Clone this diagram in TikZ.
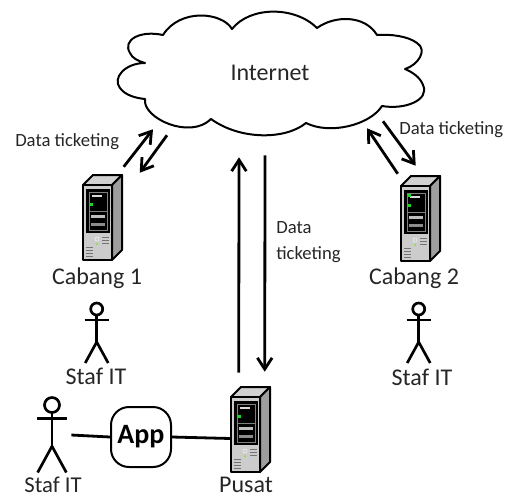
\documentclass[tikz,border=0pt]{standalone}
\usepackage{fontspec}
\setmainfont{Carlito}
\usetikzlibrary{arrows.meta}
\newlength{\du}
\setlength{\du}{0.75pt}
\definecolor{labelcolor}{rgb}{0.15,0.15,0.15}
\definecolor{topcolor}{rgb}{0.82,0.82,0.82}
\definecolor{sidecolor}{rgb}{0.62,0.62,0.62}
\definecolor{panelcolor}{rgb}{0.80,0.80,0.80}
\definecolor{ledcolor}{rgb}{0.10,0.85,0.15}
\tikzset{
  label text/.style={text=labelcolor,font=\fontsize{18pt}{20pt}\selectfont,inner sep=0pt},
  small text/.style={text=labelcolor,font=\fontsize{14pt}{20pt}\selectfont,inner sep=0pt,align=left},
  cloudline/.style={line width=1.5pt,line join=round},
  flow/.style={line width=2.1pt,-{Straight Barb[length=8.5pt,width=11pt,line width=2.1pt]}},
  link/.style={line width=2.1pt},
  stickline/.style={line width=2pt},
  serverline/.style={line width=1.5pt,line join=round},
  actorsize/.store in=\actorsize,
  actorsize=1,
  serverpic/.pic={
    \pgftransformyscale{-1.000000}
    \node[minimum width=39\du,minimum height=85\du,inner sep=0pt] (-box) at (19.5\du,42.5\du) {};
    \draw[serverline,fill=topcolor] (0\du,10\du)--(10\du,0\du)--(39\du,0\du)--(29\du,10\du)--cycle;
    \draw[serverline,fill=sidecolor] (29\du,10\du)--(39\du,0\du)--(39\du,75\du)--(29\du,85\du)--cycle;
    \draw[serverline,fill=panelcolor] (0\du,10\du)--(29\du,10\du)--(29\du,85\du)--(0\du,85\du)--cycle;
    \fill[black] (3\du,14\du)--(27\du,14\du)--(27\du,58\du)--(3\du,58\du)--cycle;
    \draw[white!50!black,line width=0.4pt] (6\du,17\du)--(24\du,17\du)--(24\du,55\du)--(6\du,55\du)--cycle;
    \fill[white!85!black] (9\du,20\du)--(19\du,20\du)--(19\du,22\du)--(9\du,22\du)--cycle;
    \fill[ledcolor] (7\du,28\du)--(10\du,28\du)--(10\du,31\du)--(7\du,31\du)--cycle;
    \draw[white!50!black,line width=0.4pt] (6\du,36\du)--(24\du,36\du);
    \fill[white!75!black] (8\du,40\du)--(22\du,40\du)--(22\du,43\du)--(8\du,43\du)--cycle;
    \fill[white!55!black] (8\du,48\du)--(22\du,48\du)--(22\du,51\du)--(8\du,51\du)--cycle;
    \draw[white!95!black,line width=0.4pt] (14\du,64\du) circle (2\du);
    \fill[ledcolor!60!yellow] (14\du,69\du) circle (1\du);
    \foreach \ypos in {62,65,68} {
      \draw[white!45!black,line width=0.5pt] (19\du,\ypos\du)--(26\du,\ypos\du);
    }
    \foreach \ypos in {72,75,78,81} {
      \draw[white!45!black,line width=0.5pt] (3\du,\ypos\du)--(10\du,\ypos\du);
    }
  },
  actorpic/.pic={
    \pgftransformyscale{-1.000000}
    \pgftransformscale{\actorsize}
    \draw[stickline] (0\du,0\du) circle (6\du);
    \draw[stickline] (0\du,6\du)--(0\du,33\du);
    \draw[stickline] (-12\du,11\du)--(12\du,11\du);
    \draw[stickline] (-11.5\du,54\du)--(0\du,33\du)--(11.5\du,54\du);
    \coordinate (-hand) at (15.5\du,24\du);
  }
}

\begin{document}
\begin{tikzpicture}
\pgftransformxscale{1.000000}
\pgftransformyscale{-1.000000}
\useasboundingbox (0\du,0\du) rectangle (523\du,497\du);
% cloud
\draw[cloudline] (232\du,29\du)
  .. controls (222\du,12\du) and (180\du,8\du) .. (163\du,35\du)
  .. controls (140\du,30\du) and (122\du,40\du) .. (130\du,53\du)
  .. controls (132\du,58\du) and (138\du,61\du) .. (145\du,63\du)
  .. controls (125\du,63\du) and (112\du,78\du) .. (120\du,88\du)
  .. controls (125\du,95\du) and (135\du,98\du) .. (145\du,99\du)
  .. controls (142\du,118\du) and (190\du,140\du) .. (211\du,119\du)
  .. controls (240\du,140\du) and (285\du,140\du) .. (306\du,123\du)
  .. controls (330\du,135\du) and (370\du,125\du) .. (382\du,106\du)
  .. controls (405\du,110\du) and (430\du,100\du) .. (423\du,85\du)
  .. controls (420\du,77\du) and (412\du,72\du) .. (405\du,69\du)
  .. controls (418\du,65\du) and (428\du,50\du) .. (417\du,43\du)
  .. controls (408\du,36\du) and (390\du,34\du) .. (377\du,35\du)
  .. controls (365\du,15\du) and (335\du,15\du) .. (317\du,28\du)
  .. controls (295\du,6\du) and (250\du,6\du) .. (232\du,29\du)--cycle;
\node[label text,minimum width=305\du,minimum height=122\du] (internet) at (270\du,73\du){Internet};
% servers
\pic (cabang1) at (83\du,175\du) {serverpic};
\pic (cabang2) at (401\du,176\du) {serverpic};
\pic (pusat) at (231\du,387\du) {serverpic};
\fill[ledcolor] (cabang2-box.north west) ++(7\du,18\du) coordinate (ledtop) -- ++(3\du,0\du) -- ++(0\du,3\du) -- ++(-3\du,0\du) -- cycle;
\node[label text] (cabang1text) at (97\du,278\du){Cabang 1};
\node[label text] (cabang2text) at (414\du,278\du){Cabang 2};
\node[label text] (pusattext) at (246\du,485\du){Pusat};
% staff
\pic (staf1) at (96.7\du,309\du) {actorpic};
\pic (staf2) at (418.7\du,309\du) {actorpic};
\pic[actorsize=1.25] (staf3) at (52\du,405\du) {actorpic};
\node[label text] (staf1text) at (96\du,376\du){Staf IT};
\node[label text] (staf2text) at (422\du,377\du){Staf IT};
\node[label text,font=\fontsize{17pt}{19pt}\selectfont] (staf3text) at (53\du,485\du){Staf IT};
% app
\node[draw,line width=1.5pt,rounded corners=18\du,minimum width=60\du,minimum height=60\du,inner sep=0pt,font=\bfseries\fontsize{21pt}{23pt}\selectfont] (app) at (141\du,437\du){App};
\draw[link] (staf3-hand)--(app.west);
\draw[link] (app.east)--([shift={(0\du,9\du)}]pusat-box.west);
% data flow
\draw[flow] ([shift={(41\du,-8\du)}]cabang1-box.north west)--([shift={(-117\du,-5\du)}]internet.south);
\draw[flow] ([shift={(-103\du,1\du)}]internet.south)--([shift={(57\du,-2\du)}]cabang1-box.north west);
\draw[flow] ([shift={(-3\du,-2\du)}]cabang2-box.north west)--([shift={(97\du,-6\du)}]internet.south);
\draw[flow] ([shift={(113\du,-13\du)}]internet.south)--([shift={(15\du,-10\du)}]cabang2-box.north west);
\draw[flow] ([shift={(8\du,-14\du)}]pusat-box.north west)--([shift={(-31\du,23\du)}]internet.south);
\draw[flow] ([shift={(-5\du,21\du)}]internet.south)--([shift={(34\du,-15\du)}]pusat-box.north west);
\node[small text,anchor=west] (datatext1) at (15\du,142\du){Data ticketing};
\node[small text,anchor=west] (datatext2) at (399\du,130\du){Data ticketing};
\node[small text,anchor=west] (datatext3) at (276\du,242\du){Data\\ticketing};
\end{tikzpicture}
\end{document}
